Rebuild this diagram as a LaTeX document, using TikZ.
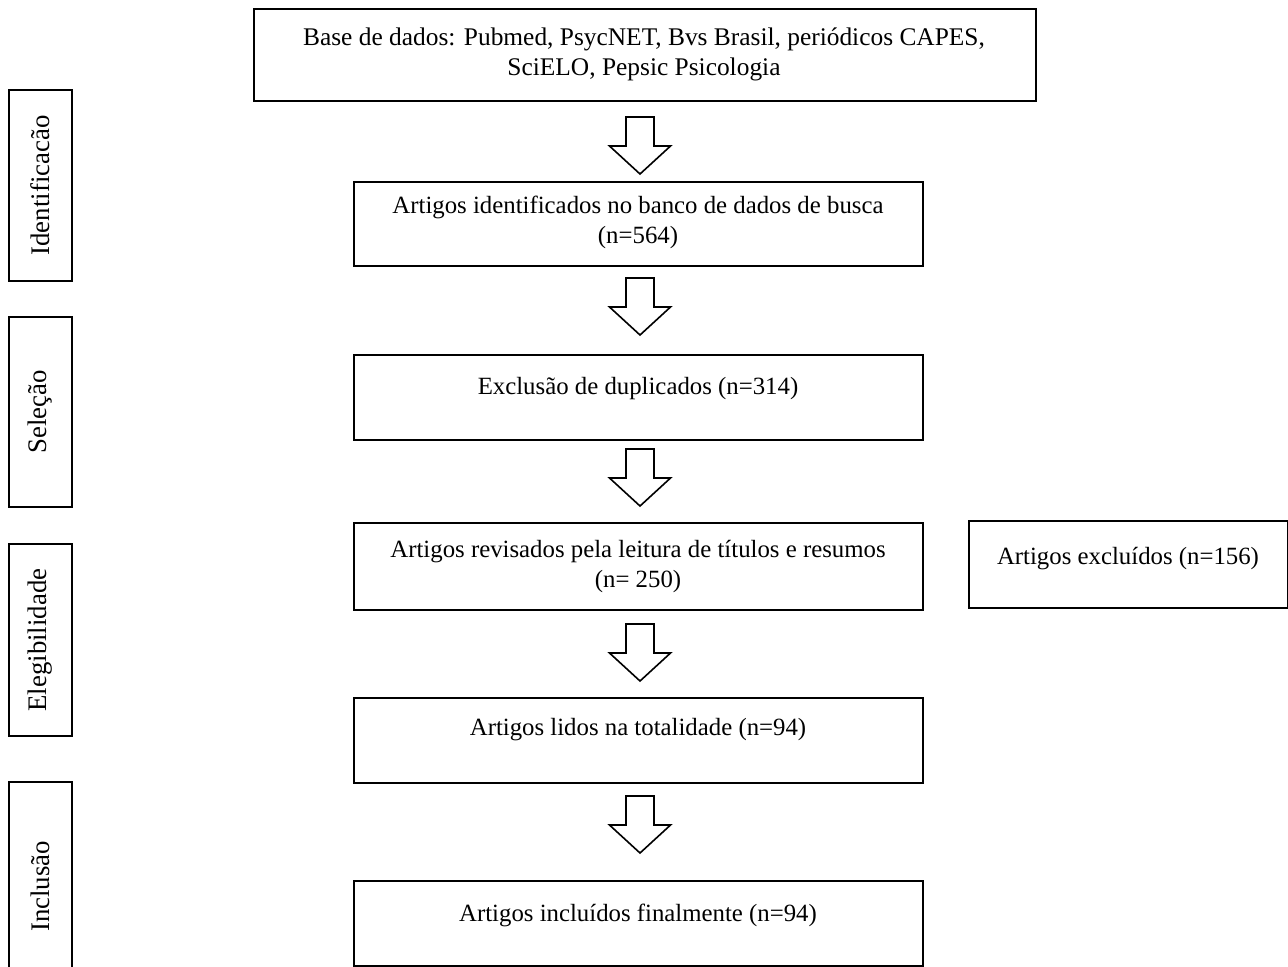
\documentclass[tikz,border=0pt]{standalone}
\usepackage{fontspec}
\setmainfont{Liberation Serif}
\usetikzlibrary{positioning,calc}

\begin{document}
\begin{tikzpicture}[x=0.5pt, y=-0.5pt, font=\fontsize{12.4}{15}\selectfont,
  box/.style={draw, line width=1pt, anchor=north west, inner sep=0pt},
  stage/.style={box, minimum width=31.5pt},
  flow/.style={box, minimum width=284.5pt},
  vlbl/.style={rotate=90, font=\fontsize{13.4}{16}\selectfont},
  lbl/.style={anchor=base, align=center, inner sep=0pt},
  blkarrow/.pic={\draw[line width=0.8pt, fill=white] (-14,0) -- (14,0) -- (14,29) -- (30.5,29) -- (0,57) -- (-30.5,29) -- (-14,29) -- cycle;},
]
\useasboundingbox (0,0) rectangle (1288,966);
% ---- stages (left) ----
\node[stage, minimum height=95.5pt] (S1) at (8,89) {};
\node[stage, minimum height=95pt] (S2) at (8,316) {};
\node[stage, minimum height=96pt] (S3) at (8,543) {};
\node[stage, minimum height=104.5pt] (S4) at (8,781) {};
\node[vlbl] (tS1) at (S1.center) {Identificacão};
\node[vlbl] (tS2) at (S2.center) {Seleção};
\node[vlbl] (tS3) at (S3.center) {Elegibilidade};
\node[vlbl] (tS4) at (S4.center) {Inclusão};
% ---- flow boxes ----
\node[box, minimum width=391pt, minimum height=46pt] (B0) at (253,8) {};
\node[flow, minimum height=42pt] (B1) at (353,181) {};
\node[flow, minimum height=42.5pt] (B2) at (353,354) {};
\node[flow, minimum height=43.5pt] (B3) at (353,522) {};
\node[flow, minimum height=42.5pt] (B4) at (353,697) {};
\node[flow, minimum height=42.5pt] (B5) at (353,880) {};
\node[box, minimum width=159.5pt, minimum height=43.5pt] (BX) at (968,520) {};
% texts
\node[lbl, font=\fontsize{12.7}{15}\selectfont] (t0) at (644,75) {Base de dados: Pubmed, PsycNET, Bvs Brasil, periódicos CAPES,\\SciELO, Pepsic Psicologia};
\node[lbl] (t1) at (638,243) {Artigos identificados no banco de dados de busca\\(n=564)};
\node[lbl] (t2) at (638,394) {Exclusão de duplicados (n=314)};
\node[lbl] (t3) at (638,587) {Artigos revisados pela leitura de títulos e resumos\\(n= 250)};
\node[lbl] (t4) at (638,735) {Artigos lidos na totalidade (n=94)};
\node[lbl] (t5) at (638,921) {Artigos incluídos finalmente (n=94)};
\node[lbl] (tX) at (1128,564) {Artigos excluídos (n=156)};
% ---- block arrows ----
\pic at (640,117) {blkarrow};
\pic at (640,278) {blkarrow};
\pic at (640,449) {blkarrow};
\pic at (640,624) {blkarrow};
\pic at (640,796) {blkarrow};
\end{tikzpicture}
\end{document}
